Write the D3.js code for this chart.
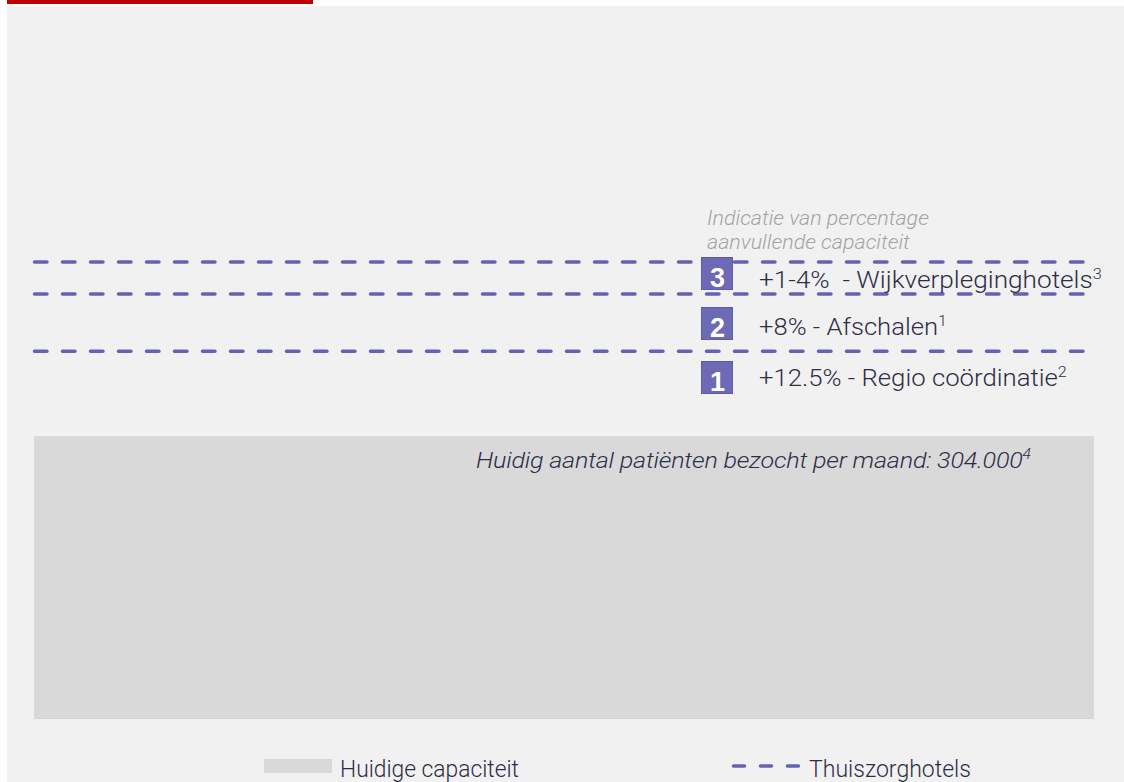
<!DOCTYPE html>
<html>
<head>
<meta charset="utf-8">
<script src="https://cdn.jsdelivr.net/npm/d3@7"></script>
<style>
  html, body { margin: 0; padding: 0; background: #ffffff; }
  svg { display: block; }
</style>
</head>
<body>
<svg id="chart" width="1124" height="782"></svg>
<script>
// ---------- data ----------
const currentCapacity = 304000;              // patients visited per month
const currentIndex = 100;                    // current capacity = 100
const stepNumbers = ["1", "2", "3"];
const stepLabels = ["+12.5% - Regio coördinatie", "+8% - Afschalen", "+1-4%  - Wijkverpleginghotels"];
const stepFootnotes = ["2", "1", "3"];
const lineValues = [112.5, 120.9, 125.6];    // cumulative capacity index where each dashed line sits
const legendLabels = ["Huidige capaciteit", "Thuiszorghotels"];
const subtitleLines = ["Indicatie van percentage", "aanvullende capaciteit"];

// ---------- styles / layout ----------
const FONT = "Roboto, 'Liberation Sans', Arial, sans-serif";
const PURPLE = "#6562b0";
const BOX = "#6c69b5";
const TEXT = "#2e2d47";
const BAR = "#d9d9d9";

// fit a text element to a target width: a little letter-spacing, then horizontal scale about its x
function fit(node, target, ls) {
  const el = node.node ? node.node() : node;
  if (ls) el.setAttribute("letter-spacing", ls);
  const w = el.getComputedTextLength();
  const x0 = +el.getAttribute("x");
  const s = target / w;
  el.setAttribute("transform", `translate(${x0},0) scale(${s.toFixed(4)},1) translate(${-x0},0)`);
}

const svg = d3.select("#chart");

// background panel and red header bar
svg.append("rect").attr("x", 7).attr("y", 6).attr("width", 1117).attr("height", 776).attr("fill", "#f1f1f1");
svg.append("rect").attr("x", 7).attr("y", 0).attr("width", 306).attr("height", 4).attr("fill", "#c00000");

// scales
const x = d3.scaleLinear().domain([0, 1]).range([34, 1094]);
const y = d3.scaleLinear().domain([58.4, 130]).range([719, 232.2]);

// current capacity bar
svg.append("rect")
  .datum(currentIndex)
  .attr("x", x(0))
  .attr("y", d => y(d))
  .attr("width", x(1) - x(0))
  .attr("height", d => y(y.domain()[0]) - y(d))
  .attr("fill", BAR);
svg.append("line")
  .attr("x1", x(0)).attr("x2", x(1))
  .attr("y1", y(y.domain()[0]) - 0.5).attr("y2", y(y.domain()[0]) - 0.5)
  .attr("stroke", "#d2d2d2").attr("stroke-width", 1);

// bar label
const barText = svg.append("text")
  .attr("x", 476).attr("y", y(currentIndex) + 32)
  .attr("font-family", FONT).attr("font-weight", 300).attr("font-style", "italic")
  .attr("font-size", 22.5).attr("fill", TEXT);
barText.append("tspan")
  .text("Huidig aantal patiënten bezocht per maand: " + d3.format(",")(currentCapacity).replace(/,/g, "."));
barText.append("tspan").attr("dy", -9).attr("font-size", 14).text("4");
fit(barText, 555, -0.2);

// dashed capacity lines
svg.selectAll("line.level")
  .data(lineValues)
  .join("line")
  .attr("class", "level")
  .attr("x1", 34.5).attr("x2", 1083)
  .attr("y1", d => y(d)).attr("y2", d => y(d))
  .attr("stroke", PURPLE)
  .attr("stroke-width", 3.5)
  .attr("stroke-linecap", "round")
  .attr("stroke-dasharray", "12.5,15.5");

// subtitle
const subWidths = [222, 203];
subtitleLines.forEach((line, i) => {
  const t = svg.append("text")
    .attr("x", 707).attr("y", 225 + i * 24)
    .attr("font-family", FONT).attr("font-weight", 300).attr("font-style", "italic")
    .attr("font-size", 20).attr("fill", "#a3a3a3")
    .text(line);
  fit(t, subWidths[i]);
});

// step rows (layout: box tops, text baselines, text widths)
const rowTops = [361, 307, 257];
const rowBaselines = [386, 335, 288];
const rowWidths = [308, 188, 343];
const rows = svg.selectAll("g.row")
  .data(stepNumbers.map((n, i) => ({ n, i, label: stepLabels[i], fn: stepFootnotes[i] })))
  .join("g").attr("class", "row");

rows.append("rect")
  .attr("x", 701.5).attr("y", d => rowTops[d.i] + 0.5)
  .attr("width", 31).attr("height", 32)
  .attr("fill", BOX).attr("stroke", "#5d5aa9").attr("stroke-width", 1);

rows.append("text")
  .attr("x", 717.5).attr("y", d => rowTops[d.i] + 30)
  .attr("text-anchor", "middle")
  .attr("font-family", "'Liberation Sans', Arial, sans-serif").attr("font-weight", 700)
  .attr("font-size", 27).attr("fill", "#ffffff")
  .text(d => d.n);

rows.append("text")
  .attr("x", 759).attr("y", d => rowBaselines[d.i])
  .attr("font-family", FONT).attr("font-weight", 300)
  .attr("font-size", 24).attr("fill", TEXT)
  .attr("xml:space", "preserve")
  .each(function (d) {
    const t = d3.select(this);
    t.append("tspan").text(d.label);
    t.append("tspan").attr("dy", -9).attr("font-size", 15).text(d.fn);
    fit(this, rowWidths[d.i]);
  });

// legend
svg.append("rect").attr("x", 264).attr("y", 759).attr("width", 68).attr("height", 14).attr("fill", BAR);
const leg1 = svg.append("text").attr("x", 340).attr("y", 777)
  .attr("font-family", FONT).attr("font-weight", 300).attr("font-size", 24).attr("fill", TEXT)
  .text(legendLabels[0]);
fit(leg1, 179);
svg.append("line")
  .attr("x1", 733.5).attr("x2", 800.5).attr("y1", 766).attr("y2", 766)
  .attr("stroke", PURPLE).attr("stroke-width", 3.5).attr("stroke-linecap", "round")
  .attr("stroke-dasharray", "11,16");
const leg2 = svg.append("text").attr("x", 809).attr("y", 777)
  .attr("font-family", FONT).attr("font-weight", 300).attr("font-size", 24).attr("fill", TEXT)
  .text(legendLabels[1]);
fit(leg2, 162);
</script>
</body>
</html>
